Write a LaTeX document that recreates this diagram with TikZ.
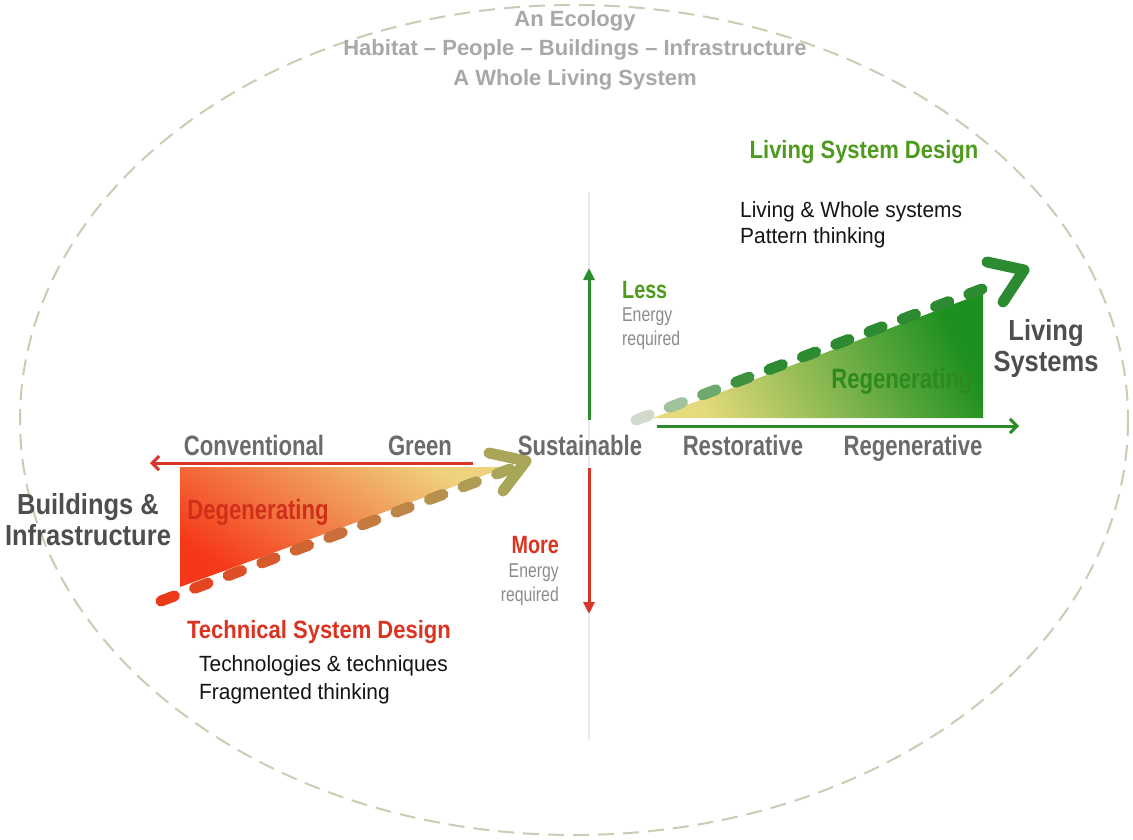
\documentclass[tikz,border=0pt]{standalone}
\usepackage{fontspec}
\setmainfont{Liberation Sans}
\newfontfamily\condfont[FakeStretch=0.79]{Liberation Sans}
\newfontfamily\headfont[FakeStretch=0.88]{Liberation Sans}
\newfontfamily\bodyfont[FakeStretch=0.95]{Liberation Sans}
\usetikzlibrary{arrows.meta,calc}

\definecolor{ringgray}{HTML}{C4CFB4}
\definecolor{toptext}{HTML}{A8A8A8}
\definecolor{axistext}{HTML}{6B6B6B}
\definecolor{smalltext}{HTML}{8C8C8C}
\definecolor{darktext}{HTML}{4E4E4E}
\definecolor{degred}{HTML}{EA3A1A}
\definecolor{degolive}{HTML}{A9A65A}
\definecolor{deghot}{HTML}{F5381A}
\definecolor{degorange}{HTML}{F28C44}
\definecolor{degsand}{HTML}{EFD27E}
\definecolor{regpale}{HTML}{D2DACB}
\definecolor{regdark}{HTML}{2C8A30}
\definecolor{regyellow}{HTML}{E6DB7C}
\definecolor{regmid}{HTML}{A6C44C}
\definecolor{reggreen}{HTML}{1E9020}
\definecolor{arrowred}{HTML}{D9332A}
\definecolor{arrowgreen}{HTML}{2B8C2B}
\definecolor{labelgreen}{HTML}{4E9A1C}
\definecolor{labelred}{HTML}{DC3220}
\definecolor{fillred}{HTML}{D0301A}
\definecolor{fillgreen}{HTML}{2D8A1E}

\tikzset{
  toplabel/.style={inner sep=0pt, text=toptext, font=\bfseries\fontsize{22}{26}\selectfont},
  axislabel/.style={inner sep=0pt, anchor=base, text=axistext, font=\condfont\bfseries\fontsize{28}{32}\selectfont},
  zonelabel/.style={inner sep=0pt, anchor=base, font=\condfont\bfseries\fontsize{28}{32}\selectfont},
  energyhead/.style={inner sep=0pt, font=\condfont\bfseries\fontsize{25}{28}\selectfont},
  energynote/.style={inner sep=0pt, text=smalltext, font=\condfont\fontsize{20}{23}\selectfont},
  designhead/.style={inner sep=0pt, font=\headfont\bfseries\fontsize{25}{28}\selectfont},
  sidelabel/.style={inner sep=0pt, text=darktext, align=center, font=\headfont\bfseries\fontsize{29}{31}\selectfont},
  bodytext/.style={inner sep=0pt, anchor=west, text=black!92, font=\bodyfont\fontsize{22}{26}\selectfont},
  axisarrow/.style={line width=3pt},
  gradedash/.style={line width=11pt, line cap=round},
  dashhead/.style={line width=11pt, line cap=round, line join=round}
}

\begin{document}
\begin{tikzpicture}[x=1pt,y=-1pt]
\useasboundingbox[fill=white] (0,0) rectangle (1133,839);

% outer ecology ring
\draw[ringgray, line width=2pt, dash pattern=on 16pt off 9pt] (574,420) ellipse [x radius=554, y radius=415];
\node[toplabel] (eco1) at (575,21) {An Ecology};
\node[toplabel] (eco2) at (575,50) {Habitat – People – Buildings – Infrastructure};
\node[toplabel] (eco3) at (575,80) {A Whole Living System};

% energy axis
\coordinate (vtop) at (589,192);
\coordinate (vbot) at (589,740);
\draw[black!8, line width=1.5pt] (vtop) -- (vbot);
\coordinate (lessfrom) at (589,420);
\coordinate (lessto) at (589,268);
\coordinate (morefrom) at (589,468);
\coordinate (moreto) at (589,614);
\draw[axisarrow, arrowgreen, -{Triangle[length=12pt,width=11pt]}] (lessfrom) -- (lessto);
\draw[axisarrow, arrowred, -{Triangle[length=12pt,width=11pt]}] (morefrom) -- (moreto);

% degenerating wedge
\coordinate (dtl) at (180,467);
\coordinate (dtr) at (507,467);
\coordinate (dbl) at (180,587);
\shade[bottom color=deghot, middle color=degorange, top color=degsand, shading angle=-34] (dtl) -- (dtr) -- (dbl) -- cycle;
\coordinate (convfrom) at (473,463);
\coordinate (convto) at (150,463);
\draw[axisarrow, arrowred, -{Straight Barb[length=7pt,width=14pt]}] (convfrom) -- (convto);

% regenerating wedge
\coordinate (gl) at (653,418);
\coordinate (gbr) at (983,418);
\coordinate (gtr) at (983,293);
\shade[top color=regyellow, middle color=regmid, bottom color=reggreen, shading angle=118] (gl) -- (gbr) -- (gtr) -- cycle;
\coordinate (restfrom) at (657,426);
\coordinate (restto) at (1019,426);
\draw[axisarrow, arrowgreen, -{Straight Barb[length=7pt,width=14pt]}] (restfrom) -- (restto);

% dashed trend lines
\coordinate (rs) at (161,601);
\coordinate (re) at (510,469);
\foreach \i in {0,...,10}{
  \pgfmathsetmacro\ta{\i/10.4}
  \pgfmathsetmacro\tb{(\i+0.4)/10.4}
  \pgfmathtruncatemacro\mix{10*\i}
  \draw[gradedash, draw=degolive!\mix!degred] ($(rs)!\ta!(re)$) -- ($(rs)!\tb!(re)$);
}
\coordinate (rtip) at (526,461);
\coordinate (rup) at (489,453);
\coordinate (rdown) at (503,491);
\draw[dashhead, degolive] (rup) -- (rtip) -- (rdown);

\coordinate (gs) at (636,420);
\coordinate (ge) at (982,289);
\foreach \i in {0,...,10}{
  \pgfmathsetmacro\ta{\i/10.4}
  \pgfmathsetmacro\tb{(\i+0.4)/10.4}
  \pgfmathtruncatemacro\mix{min(100,30*\i)}
  \draw[gradedash, draw=regdark!\mix!regpale] ($(gs)!\ta!(ge)$) -- ($(gs)!\tb!(ge)$);
}
\coordinate (gtip) at (1024,270);
\coordinate (gup) at (987,262);
\coordinate (gdown) at (1003,302);
\draw[dashhead, regdark] (gup) -- (gtip) -- (gdown);

% axis labels
\node[axislabel] (conv) at (254,455) {Conventional};
\node[axislabel] (green) at (420,455) {Green};
\node[axislabel] (sust) at (580,455) {Sustainable};
\node[axislabel] (rest) at (743,455) {Restorative};
\node[axislabel] (regen) at (913,455) {Regenerative};
\node[zonelabel, text=fillred] (degen) at (258,519) {Degenerating};
\node[zonelabel, text=fillgreen] (regenz) at (902,388) {Regenerating};
\node[sidelabel] (bldg) at (88,520) {Buildings \&\\Infrastructure};
\node[sidelabel] (livsys) at (1046,348) {Living\\Systems};

% energy notes
\node[energyhead, text=labelgreen, anchor=west] (less) at (622,290) {Less};
\node[energynote, anchor=west] (lessa) at (622,317) {Energy};
\node[energynote, anchor=west] (lessb) at (622,340) {required};
\node[energyhead, text=labelred, anchor=east] (more) at (559,545) {More};
\node[energynote, anchor=east] (morea) at (559,573) {Energy};
\node[energynote, anchor=east] (moreb) at (559,596) {required};

% design approaches
\node[designhead, text=labelgreen] (lsd) at (864,152) {Living System Design};
\node[bodytext] (lsda) at (740,212) {Living \& Whole systems};
\node[bodytext] (lsdb) at (740,238) {Pattern thinking};
\node[designhead, text=labelred] (tsd) at (319,632) {Technical System Design};
\node[bodytext] (tsda) at (199,666) {Technologies \& techniques};
\node[bodytext] (tsdb) at (199,694) {Fragmented thinking};
\end{tikzpicture}
\end{document}
